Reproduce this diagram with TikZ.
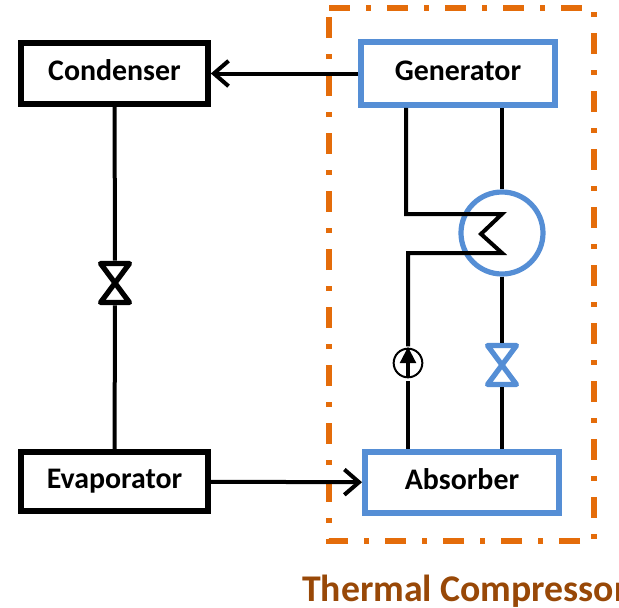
\documentclass[tikz,border=0pt]{standalone}
\usepackage{fontspec}
\setmainfont{Carlito}
\usepackage{tikz}
\usetikzlibrary{positioning, arrows.meta, shapes.geometric}

\definecolor{tcorange}{HTML}{E46C0A}
\definecolor{tcblue}{HTML}{558ED5}
\definecolor{tcbrown}{HTML}{984807}

\tikzset{
  flow/.style={line width=3pt, draw=black},
  boxtext/.style={inner sep=0pt, fill=white, text height=15.3pt, text depth=5pt, font=\fontsize{22.4}{25}\selectfont\bfseries},
  blackbox/.style={boxtext, draw=black, line width=4.5pt},
  bluebox/.style={boxtext, draw=tcblue, line width=4.4pt},
  valvespot/.style={inner sep=0pt, minimum width=25pt, minimum height=33pt},
  valve/.pic={\draw[line width=3.9pt, line join=round, pic actions] (-14.5,-19.5) -- (14.5,-19.5) -- (-14.5,19.5) -- (14.5,19.5) -- cycle;}
}

\begin{document}
\begin{tikzpicture}[x=0.75pt, y=-0.75pt, >={Straight Barb[length=11pt,width=19pt]}]
   \useasboundingbox (0,0) rectangle (619,608);

   % Thermal compressor frame
   \draw[tcorange, line width=4.1pt, dash pattern=on 15.75pt off 12pt on 3.75pt off 12pt]
     (329,8) -- (594,8) -- (594,541) -- (329,541) -- cycle;
   \node[text=tcbrown, anchor=base west, inner sep=0pt, font=\fontsize{28.3}{32}\selectfont\bfseries] (tclabel) at (302,601) {Thermal Compressor};

   % Four boxes
   \node[blackbox, minimum width=140pt, minimum height=45.75pt] (cond) at (114.5,73.5) {Condenser};
   \node[blackbox, minimum width=140pt, minimum height=44.25pt] (evap) at (114.5,481.5) {Evaporator};
   \node[bluebox, minimum width=145.5pt, minimum height=47.25pt] (gen) at (458,73.5) {Generator};
   \node[bluebox, minimum width=145.5pt, minimum height=45.75pt] (abs) at (462,482.5) {Absorber};

   % Heat exchanger
   \node[circle, draw=tcblue, line width=3.9pt, inner sep=0pt, minimum size=61.5pt] (hx) at (502,233) {};
   \coordinate (hxa) at (406,214);
   \coordinate (hxb) at (502,214);
   \coordinate (hxm) at (481,234);
   \coordinate (hxc) at (502,253);
   \coordinate (hxd) at (408,253);

   % Valves
   \node[valvespot] (v1) at (115,283) {};
   \node[valvespot] (v2) at (502,365) {};
   \pic at (v1) {valve};
   \pic[tcblue] at (v2) {valve};

   % Pump
   \node[circle, draw=black, line width=1.5pt, inner sep=0pt, minimum size=21.5pt] (pump) at (408,363) {};
   \node[isosceles triangle, isosceles triangle apex angle=55, shape border rotate=90, fill=black, inner sep=0pt, minimum height=12pt, minimum width=12pt] (pumptip) at (408,358) {};
   \coordinate (pumpgap) at (408,381);

   % Lines
   \draw[flow, ->] (gen) -- (cond);
   \draw[flow, ->] (evap) -- (abs);
   \draw[flow] (cond) -- (v1);
   \draw[flow] (v1) -- (evap);
   \draw[flow] (gen.south -| hxa) -- (hxa) -- (hxb) -- (hxm) -- (hxc) -- (hxd) -- (pumptip.north);
   \draw[flow] (pumptip.south) -- (pump.south);
   \draw[flow] (pumpgap) -- (abs.north -| pumpgap);
   \draw[flow] (gen.south -| hx) -- (hx);
   \draw[flow] (hx) -- (v2);
   \draw[flow] (v2) -- (abs.north -| v2);
\end{tikzpicture}
\end{document}
